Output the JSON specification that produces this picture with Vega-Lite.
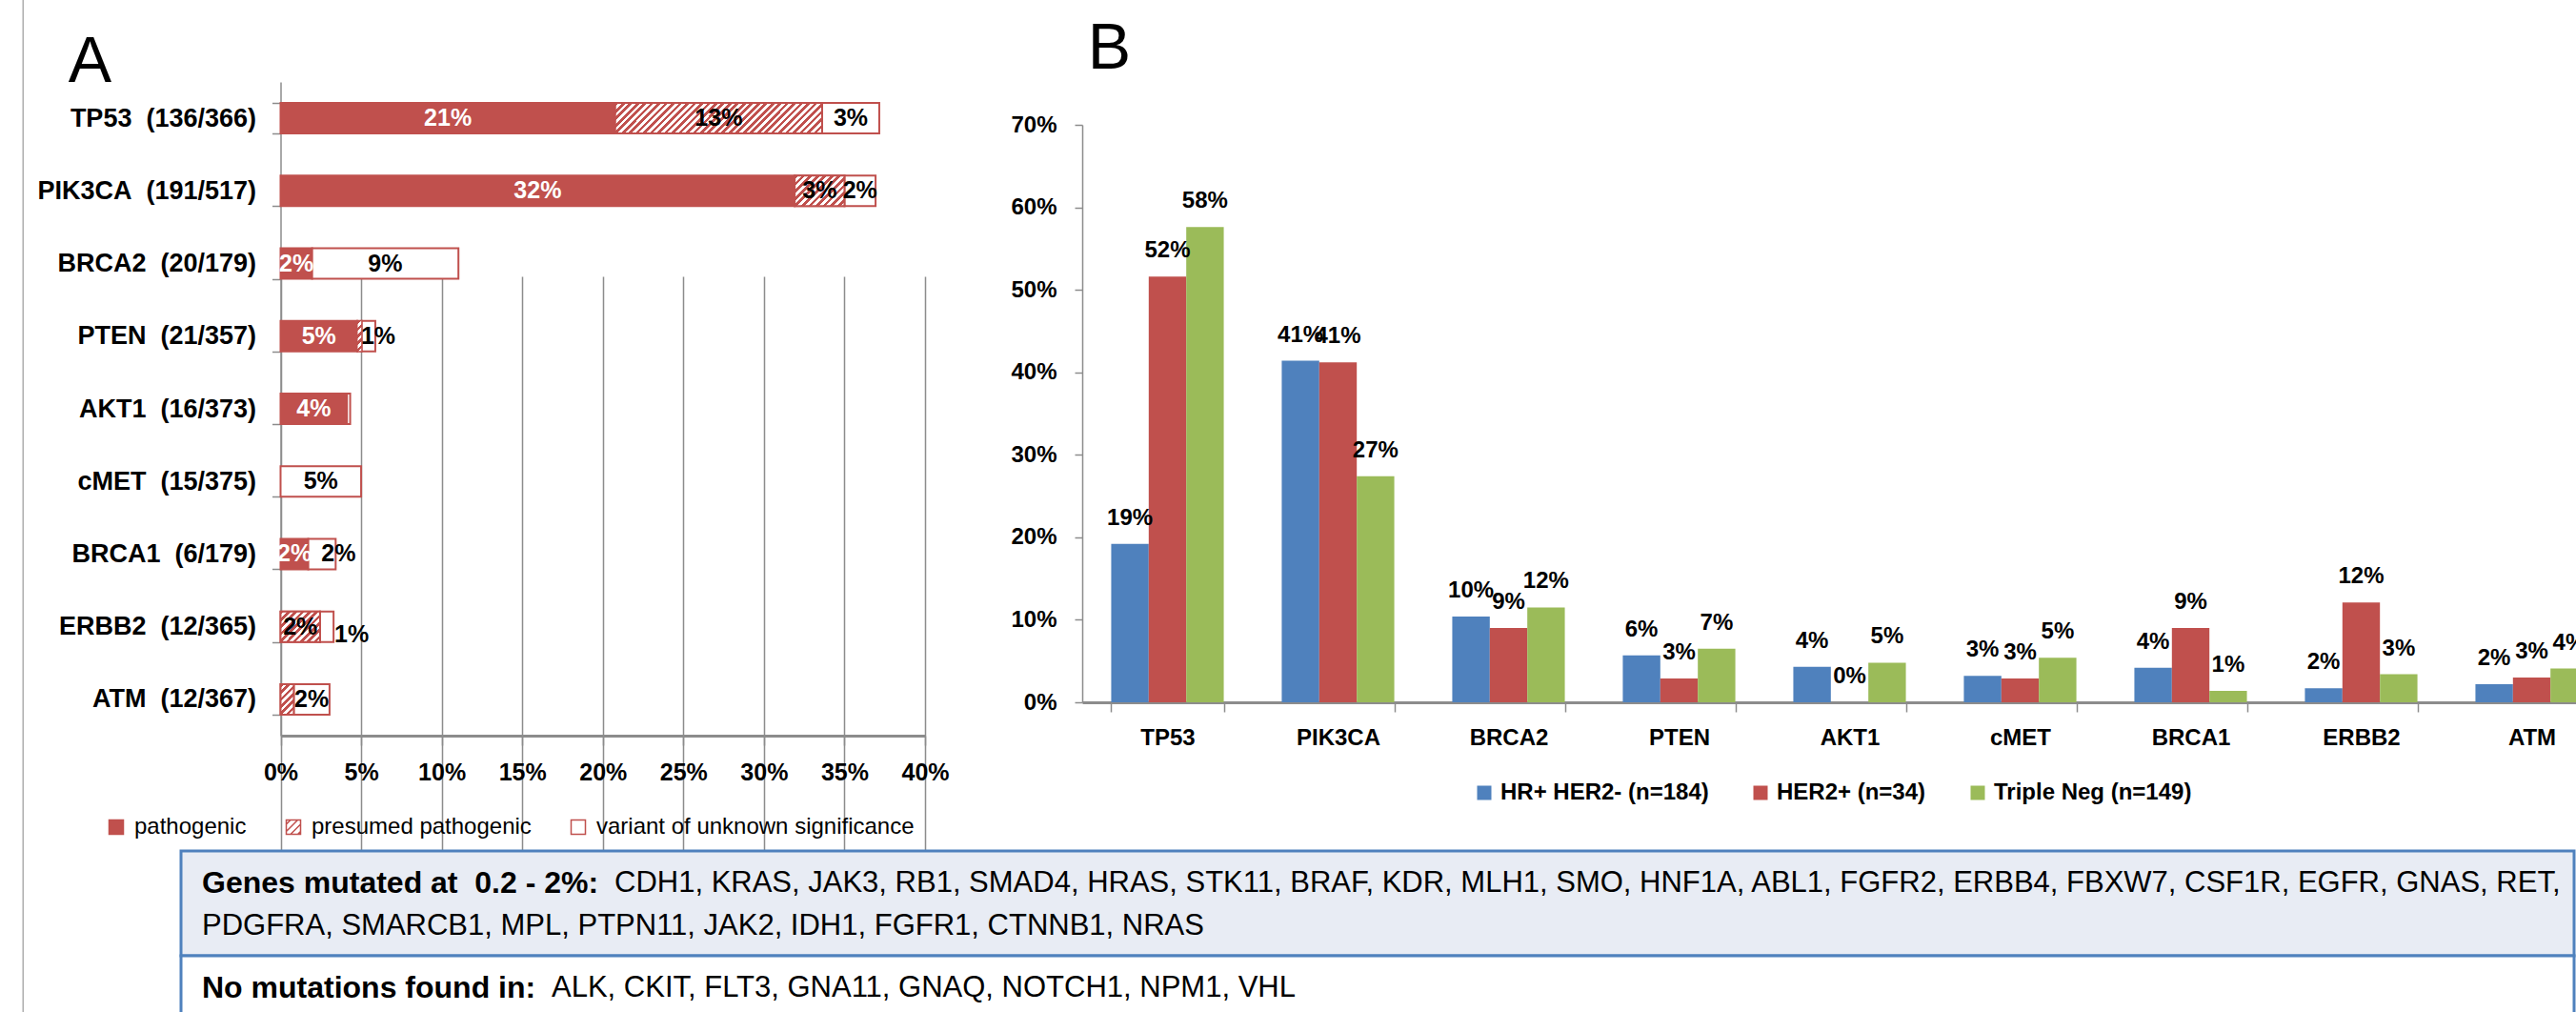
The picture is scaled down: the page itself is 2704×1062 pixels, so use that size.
{
  "$schema": "https://vega.github.io/schema/vega-lite/v6.json",
  "width": 2704,
  "height": 1062,
  "padding": 0,
  "autosize": {"type": "none"},
  "background": "#FFFFFF",
  "config": {
    "view": {"stroke": null},
    "font": "Liberation Sans, Arial, sans-serif",
    "axis": {"labelColor": "#000000", "titleColor": "#000000", "labelFont": "Liberation Sans, Arial, sans-serif", "titleFont": "Liberation Sans, Arial, sans-serif"},
    "legend": {"labelColor": "#000000", "labelFont": "Liberation Sans, Arial, sans-serif"},
    "text": {"font": "Liberation Sans, Arial, sans-serif"}
  },
  "datasets": {
    "mutA": [
      {"g": "TP53", "gene": "TP53\u00a0\u00a0(136/366)", "type": "pathogenic", "value": 0.2077, "text": "21%"},
      {"g": "TP53", "gene": "TP53\u00a0\u00a0(136/366)", "type": "presumed pathogenic", "value": 0.1284, "text": "13%"},
      {"g": "TP53", "gene": "TP53\u00a0\u00a0(136/366)", "type": "variant of unknown significance", "value": 0.0355, "text": "3%"},
      {"g": "PIK3CA", "gene": "PIK3CA\u00a0\u00a0(191/517)", "type": "pathogenic", "value": 0.3191, "text": "32%"},
      {"g": "PIK3CA", "gene": "PIK3CA\u00a0\u00a0(191/517)", "type": "presumed pathogenic", "value": 0.0309, "text": "3%"},
      {"g": "PIK3CA", "gene": "PIK3CA\u00a0\u00a0(191/517)", "type": "variant of unknown significance", "value": 0.0193, "text": "2%"},
      {"g": "BRCA2", "gene": "BRCA2\u00a0\u00a0(20/179)", "type": "pathogenic", "value": 0.0196, "text": "2%"},
      {"g": "BRCA2", "gene": "BRCA2\u00a0\u00a0(20/179)", "type": "variant of unknown significance", "value": 0.0908, "text": "9%"},
      {"g": "PTEN", "gene": "PTEN\u00a0\u00a0(21/357)", "type": "pathogenic", "value": 0.0476, "text": "5%"},
      {"g": "PTEN", "gene": "PTEN\u00a0\u00a0(21/357)", "type": "presumed pathogenic", "value": 0.0028, "text": ""},
      {"g": "PTEN", "gene": "PTEN\u00a0\u00a0(21/357)", "type": "variant of unknown significance", "value": 0.0084, "text": "1%"},
      {"g": "AKT1", "gene": "AKT1\u00a0\u00a0(16/373)", "type": "pathogenic", "value": 0.0412, "text": "4%"},
      {"g": "AKT1", "gene": "AKT1\u00a0\u00a0(16/373)", "type": "variant of unknown significance", "value": 0.002, "text": ""},
      {"g": "cMET", "gene": "cMET\u00a0\u00a0(15/375)", "type": "variant of unknown significance", "value": 0.05, "text": "5%"},
      {"g": "BRCA1", "gene": "BRCA1\u00a0\u00a0(6/179)", "type": "pathogenic", "value": 0.0172, "text": "2%"},
      {"g": "BRCA1", "gene": "BRCA1\u00a0\u00a0(6/179)", "type": "variant of unknown significance", "value": 0.0170, "text": "2%"},
      {"g": "ERBB2", "gene": "ERBB2\u00a0\u00a0(12/365)", "type": "presumed pathogenic", "value": 0.0245, "text": "2%"},
      {"g": "ERBB2", "gene": "ERBB2\u00a0\u00a0(12/365)", "type": "variant of unknown significance", "value": 0.0084, "text": "1%"},
      {"g": "ATM", "gene": "ATM\u00a0\u00a0(12/367)", "type": "presumed pathogenic", "value": 0.0082, "text": ""},
      {"g": "ATM", "gene": "ATM\u00a0\u00a0(12/367)", "type": "variant of unknown significance", "value": 0.0222, "text": "2%"}
    ],
    "mutB": [
      {"gene": "TP53", "group": "HR+ HER2- (n=184)", "value": 0.192, "text": "19%"},
      {"gene": "TP53", "group": "HER2+ (n=34)", "value": 0.516, "text": "52%"},
      {"gene": "TP53", "group": "Triple Neg (n=149)", "value": 0.576, "text": "58%"},
      {"gene": "PIK3CA", "group": "HR+ HER2- (n=184)", "value": 0.414, "text": "41%"},
      {"gene": "PIK3CA", "group": "HER2+ (n=34)", "value": 0.412, "text": "41%"},
      {"gene": "PIK3CA", "group": "Triple Neg (n=149)", "value": 0.274, "text": "27%"},
      {"gene": "BRCA2", "group": "HR+ HER2- (n=184)", "value": 0.104, "text": "10%"},
      {"gene": "BRCA2", "group": "HER2+ (n=34)", "value": 0.09, "text": "9%"},
      {"gene": "BRCA2", "group": "Triple Neg (n=149)", "value": 0.115, "text": "12%"},
      {"gene": "PTEN", "group": "HR+ HER2- (n=184)", "value": 0.057, "text": "6%"},
      {"gene": "PTEN", "group": "HER2+ (n=34)", "value": 0.029, "text": "3%"},
      {"gene": "PTEN", "group": "Triple Neg (n=149)", "value": 0.065, "text": "7%"},
      {"gene": "AKT1", "group": "HR+ HER2- (n=184)", "value": 0.043, "text": "4%"},
      {"gene": "AKT1", "group": "HER2+ (n=34)", "value": 0.0, "text": "0%"},
      {"gene": "AKT1", "group": "Triple Neg (n=149)", "value": 0.048, "text": "5%"},
      {"gene": "cMET", "group": "HR+ HER2- (n=184)", "value": 0.032, "text": "3%"},
      {"gene": "cMET", "group": "HER2+ (n=34)", "value": 0.029, "text": "3%"},
      {"gene": "cMET", "group": "Triple Neg (n=149)", "value": 0.054, "text": "5%"},
      {"gene": "BRCA1", "group": "HR+ HER2- (n=184)", "value": 0.042, "text": "4%"},
      {"gene": "BRCA1", "group": "HER2+ (n=34)", "value": 0.09, "text": "9%"},
      {"gene": "BRCA1", "group": "Triple Neg (n=149)", "value": 0.014, "text": "1%"},
      {"gene": "ERBB2", "group": "HR+ HER2- (n=184)", "value": 0.017, "text": "2%"},
      {"gene": "ERBB2", "group": "HER2+ (n=34)", "value": 0.121, "text": "12%"},
      {"gene": "ERBB2", "group": "Triple Neg (n=149)", "value": 0.034, "text": "3%"},
      {"gene": "ATM", "group": "HR+ HER2- (n=184)", "value": 0.022, "text": "2%"},
      {"gene": "ATM", "group": "HER2+ (n=34)", "value": 0.03, "text": "3%"},
      {"gene": "ATM", "group": "Triple Neg (n=149)", "value": 0.041, "text": "4%"}
    ],
    "boxes": [
      {"frame": "all", "box": "genes"},
      {"frame": "all", "box": "none"}
    ],
    "boxText": [
      {"frame": "all", "box": "genes", "kind": "head", "text": "Genes mutated at\u00a0\u00a00.2 - 2%:"},
      {"frame": "all", "box": "genes", "kind": "body1", "text": "CDH1, KRAS, JAK3, RB1, SMAD4, HRAS, STK11, BRAF, KDR, MLH1, SMO, HNF1A, ABL1, FGFR2, ERBB4, FBXW7, CSF1R, EGFR, GNAS, RET,"},
      {"frame": "all", "box": "genes", "kind": "body2", "text": "PDGFRA, SMARCB1, MPL, PTPN11, JAK2, IDH1, FGFR1, CTNNB1, NRAS"},
      {"frame": "all", "box": "none", "kind": "head", "text": "No mutations found in:"},
      {"frame": "all", "box": "none", "kind": "body1", "text": "ALK, CKIT, FLT3, GNA11, GNAQ, NOTCH1, NPM1, VHL"}
    ]
  },
  "layer": [
    {
      "data": {"name": "mutA"},
      "layer": [
        {
          "mark": {"type": "bar", "stroke": "#C0504D", "strokeWidth": 2},
          "encoding": {
            "y": {"field": "gene", "type": "nominal", "sort": null,
              "scale": {"domain": ["TP53\u00a0\u00a0(136/366)", "PIK3CA\u00a0\u00a0(191/517)", "BRCA2\u00a0\u00a0(20/179)", "PTEN\u00a0\u00a0(21/357)", "AKT1\u00a0\u00a0(16/373)", "cMET\u00a0\u00a0(15/375)", "BRCA1\u00a0\u00a0(6/179)", "ERBB2\u00a0\u00a0(12/365)", "ATM\u00a0\u00a0(12/367)"], "range": [86, 772], "paddingInner": 0.58, "paddingOuter": 0.29},
              "axis": {"orient": "left", "offset": -294.5, "tickBand": "extent", "domainColor": "#8C8C8C", "domainWidth": 1.5, "tickColor": "#8C8C8C", "tickWidth": 1.5, "tickSize": 9, "labelFontSize": 27, "labelFontWeight": "bold", "labelPadding": 17, "labelLimit": 400, "grid": false,
                "title": "A", "titleAngle": 0, "titleX": -200.5, "titleY": 85, "titleAlign": "center", "titleBaseline": "alphabetic", "titleFontSize": 68, "titleFontWeight": "normal"}},
            "x": {"field": "value", "type": "quantitative", "stack": "zero",
              "scale": {"domain": [0, 0.4], "range": [294.5, 971], "nice": false, "zero": false},
              "axis": {"orient": "bottom", "offset": -290, "values": [0, 0.05, 0.1, 0.15, 0.2, 0.25, 0.3, 0.35, 0.4], "format": ".0%", "grid": true, "gridColor": "#8C8C8C", "gridWidth": 1.5, "domainColor": "#8C8C8C", "domainWidth": 3, "tickColor": "#8C8C8C", "tickWidth": 1.5, "tickSize": 10, "labelFontSize": 25, "labelFontWeight": "bold", "labelPadding": 16, "labelFlush": false, "labelOverlap": false, "title": null}},
            "color": {"field": "type", "type": "nominal",
              "scale": {"domain": ["pathogenic", "presumed pathogenic", "variant of unknown significance"], "range": ["#C0504D", "#FFFFFF", "#FFFFFF"]}},
            "order": {"field": "type", "type": "nominal", "sort": "ascending"}
          }
        },
        {
          "mark": {"type": "point", "filled": true, "size": 0},
          "encoding": {
            "y": {"field": "gene", "type": "nominal", "sort": null},
            "x": {"field": "value", "type": "quantitative", "scale": {"domain": [0, 0.4], "range": [294.5, 971], "nice": false, "zero": false}, "title": null},
            "color": {"field": "type", "type": "nominal",
              "legend": {"orient": "none", "legendX": 110, "legendY": 856, "direction": "horizontal", "title": null, "padding": 0, "symbolSize": 225, "labelFontSize": 24, "labelOffset": 7, "columnPadding": 37, "labelLimit": 600,
                "encode": {"symbols": {"stroke": {"value": "#C0504D"}, "strokeWidth": {"value": 2}, "size": {"value": 225}}}}},
            "shape": {"field": "type", "type": "nominal",
              "scale": {"domain": ["pathogenic", "presumed pathogenic", "variant of unknown significance"], "range": ["square", "M-1,-1H1V1H-1Z M-1,-0.4L-0.4,-1 M-1,0.6L0.6,-1 M-0.4,1L1,-0.4 M0.6,1L1,0.6", "square"]},
              "legend": {"orient": "none", "legendX": 110, "legendY": 856, "direction": "horizontal", "title": null, "padding": 0, "symbolSize": 225, "labelFontSize": 24, "labelOffset": 7, "columnPadding": 37, "labelLimit": 600,
                "encode": {"symbols": {"stroke": {"value": "#C0504D"}, "strokeWidth": {"value": 2}, "size": {"value": 225}}}}}
          }
        },
        {
          "transform": [
            {"stack": "value", "groupby": ["g"], "sort": [{"field": "type", "order": "ascending"}], "as": ["v0", "v1"]},
            {"filter": {"and": [{"field": "g", "equal": "TP53"}, {"field": "type", "equal": "presumed pathogenic"}]}}
          ],
          "mark": {"type": "bar", "stroke": "#C0504D", "strokeWidth": 2,
            "fill": {"gradient": "linear", "x1": 0, "y1": 0, "x2": 1.1229, "y2": 0.1654, "stops": [
              {"offset": 0, "color": "#C0504D"}, {"offset": 0.015, "color": "#C0504D"}, {"offset": 0.015, "color": "#FFFFFF"}, {"offset": 0.03, "color": "#FFFFFF"},
              {"offset": 0.03, "color": "#C0504D"}, {"offset": 0.045, "color": "#C0504D"}, {"offset": 0.045, "color": "#FFFFFF"}, {"offset": 0.06, "color": "#FFFFFF"},
              {"offset": 0.06, "color": "#C0504D"}, {"offset": 0.075, "color": "#C0504D"}, {"offset": 0.075, "color": "#FFFFFF"}, {"offset": 0.09, "color": "#FFFFFF"},
              {"offset": 0.09, "color": "#C0504D"}, {"offset": 0.105, "color": "#C0504D"}, {"offset": 0.105, "color": "#FFFFFF"}, {"offset": 0.12, "color": "#FFFFFF"},
              {"offset": 0.12, "color": "#C0504D"}, {"offset": 0.135, "color": "#C0504D"}, {"offset": 0.135, "color": "#FFFFFF"}, {"offset": 0.15, "color": "#FFFFFF"},
              {"offset": 0.15, "color": "#C0504D"}, {"offset": 0.165, "color": "#C0504D"}, {"offset": 0.165, "color": "#FFFFFF"}, {"offset": 0.18, "color": "#FFFFFF"},
              {"offset": 0.18, "color": "#C0504D"}, {"offset": 0.195, "color": "#C0504D"}, {"offset": 0.195, "color": "#FFFFFF"}, {"offset": 0.21, "color": "#FFFFFF"},
              {"offset": 0.21, "color": "#C0504D"}, {"offset": 0.225, "color": "#C0504D"}, {"offset": 0.225, "color": "#FFFFFF"}, {"offset": 0.24, "color": "#FFFFFF"},
              {"offset": 0.24, "color": "#C0504D"}, {"offset": 0.255, "color": "#C0504D"}, {"offset": 0.255, "color": "#FFFFFF"}, {"offset": 0.27, "color": "#FFFFFF"},
              {"offset": 0.27, "color": "#C0504D"}, {"offset": 0.285, "color": "#C0504D"}, {"offset": 0.285, "color": "#FFFFFF"}, {"offset": 0.3, "color": "#FFFFFF"},
              {"offset": 0.3, "color": "#C0504D"}, {"offset": 0.315, "color": "#C0504D"}, {"offset": 0.315, "color": "#FFFFFF"}, {"offset": 0.33, "color": "#FFFFFF"},
              {"offset": 0.33, "color": "#C0504D"}, {"offset": 0.345, "color": "#C0504D"}, {"offset": 0.345, "color": "#FFFFFF"}, {"offset": 0.36, "color": "#FFFFFF"},
              {"offset": 0.36, "color": "#C0504D"}, {"offset": 0.375, "color": "#C0504D"}, {"offset": 0.375, "color": "#FFFFFF"}, {"offset": 0.39, "color": "#FFFFFF"},
              {"offset": 0.39, "color": "#C0504D"}, {"offset": 0.405, "color": "#C0504D"}, {"offset": 0.405, "color": "#FFFFFF"}, {"offset": 0.42, "color": "#FFFFFF"},
              {"offset": 0.42, "color": "#C0504D"}, {"offset": 0.435, "color": "#C0504D"}, {"offset": 0.435, "color": "#FFFFFF"}, {"offset": 0.45, "color": "#FFFFFF"},
              {"offset": 0.45, "color": "#C0504D"}, {"offset": 0.465, "color": "#C0504D"}, {"offset": 0.465, "color": "#FFFFFF"}, {"offset": 0.48, "color": "#FFFFFF"},
              {"offset": 0.48, "color": "#C0504D"}, {"offset": 0.495, "color": "#C0504D"}, {"offset": 0.495, "color": "#FFFFFF"}, {"offset": 0.51, "color": "#FFFFFF"},
              {"offset": 0.51, "color": "#C0504D"}, {"offset": 0.525, "color": "#C0504D"}, {"offset": 0.525, "color": "#FFFFFF"}, {"offset": 0.54, "color": "#FFFFFF"},
              {"offset": 0.54, "color": "#C0504D"}, {"offset": 0.555, "color": "#C0504D"}, {"offset": 0.555, "color": "#FFFFFF"}, {"offset": 0.57, "color": "#FFFFFF"},
              {"offset": 0.57, "color": "#C0504D"}, {"offset": 0.585, "color": "#C0504D"}, {"offset": 0.585, "color": "#FFFFFF"}, {"offset": 0.6, "color": "#FFFFFF"},
              {"offset": 0.6, "color": "#C0504D"}, {"offset": 0.615, "color": "#C0504D"}, {"offset": 0.615, "color": "#FFFFFF"}, {"offset": 0.63, "color": "#FFFFFF"},
              {"offset": 0.63, "color": "#C0504D"}, {"offset": 0.645, "color": "#C0504D"}, {"offset": 0.645, "color": "#FFFFFF"}, {"offset": 0.66, "color": "#FFFFFF"},
              {"offset": 0.66, "color": "#C0504D"}, {"offset": 0.675, "color": "#C0504D"}, {"offset": 0.675, "color": "#FFFFFF"}, {"offset": 0.69, "color": "#FFFFFF"},
              {"offset": 0.69, "color": "#C0504D"}, {"offset": 0.705, "color": "#C0504D"}, {"offset": 0.705, "color": "#FFFFFF"}, {"offset": 0.72, "color": "#FFFFFF"},
              {"offset": 0.72, "color": "#C0504D"}, {"offset": 0.735, "color": "#C0504D"}, {"offset": 0.735, "color": "#FFFFFF"}, {"offset": 0.75, "color": "#FFFFFF"},
              {"offset": 0.75, "color": "#C0504D"}, {"offset": 0.765, "color": "#C0504D"}, {"offset": 0.765, "color": "#FFFFFF"}, {"offset": 0.78, "color": "#FFFFFF"},
              {"offset": 0.78, "color": "#C0504D"}, {"offset": 0.795, "color": "#C0504D"}, {"offset": 0.795, "color": "#FFFFFF"}, {"offset": 0.81, "color": "#FFFFFF"},
              {"offset": 0.81, "color": "#C0504D"}, {"offset": 0.825, "color": "#C0504D"}, {"offset": 0.825, "color": "#FFFFFF"}, {"offset": 0.84, "color": "#FFFFFF"},
              {"offset": 0.84, "color": "#C0504D"}, {"offset": 0.855, "color": "#C0504D"}, {"offset": 0.855, "color": "#FFFFFF"}, {"offset": 0.87, "color": "#FFFFFF"},
              {"offset": 0.87, "color": "#C0504D"}, {"offset": 0.885, "color": "#C0504D"}, {"offset": 0.885, "color": "#FFFFFF"}, {"offset": 0.9, "color": "#FFFFFF"},
              {"offset": 0.9, "color": "#C0504D"}, {"offset": 0.915, "color": "#C0504D"}, {"offset": 0.915, "color": "#FFFFFF"}, {"offset": 0.93, "color": "#FFFFFF"},
              {"offset": 0.93, "color": "#C0504D"}, {"offset": 0.945, "color": "#C0504D"}, {"offset": 0.945, "color": "#FFFFFF"}, {"offset": 0.96, "color": "#FFFFFF"},
              {"offset": 0.96, "color": "#C0504D"}, {"offset": 0.975, "color": "#C0504D"}, {"offset": 0.975, "color": "#FFFFFF"}, {"offset": 0.99, "color": "#FFFFFF"},
              {"offset": 0.99, "color": "#C0504D"}, {"offset": 1, "color": "#C0504D"}]}},
          "encoding": {
            "y": {"field": "gene", "type": "nominal", "sort": null},
            "x": {"field": "v0", "type": "quantitative", "scale": {"domain": [0, 0.4], "range": [294.5, 971], "nice": false, "zero": false}, "title": null},
            "x2": {"field": "v1"}
          }
        },
        {
          "transform": [
            {"stack": "value", "groupby": ["g"], "sort": [{"field": "type", "order": "ascending"}], "as": ["v0", "v1"]},
            {"filter": {"and": [{"field": "g", "equal": "PIK3CA"}, {"field": "type", "equal": "presumed pathogenic"}]}}
          ],
          "mark": {"type": "bar", "stroke": "#C0504D", "strokeWidth": 2,
            "fill": {"gradient": "linear", "x1": 0, "y1": 0, "x2": 1.1728, "y2": 0.7176, "stops": [
              {"offset": 0, "color": "#C0504D"}, {"offset": 0.045, "color": "#C0504D"}, {"offset": 0.045, "color": "#FFFFFF"}, {"offset": 0.09, "color": "#FFFFFF"},
              {"offset": 0.09, "color": "#C0504D"}, {"offset": 0.135, "color": "#C0504D"}, {"offset": 0.135, "color": "#FFFFFF"}, {"offset": 0.18, "color": "#FFFFFF"},
              {"offset": 0.18, "color": "#C0504D"}, {"offset": 0.225, "color": "#C0504D"}, {"offset": 0.225, "color": "#FFFFFF"}, {"offset": 0.27, "color": "#FFFFFF"},
              {"offset": 0.27, "color": "#C0504D"}, {"offset": 0.315, "color": "#C0504D"}, {"offset": 0.315, "color": "#FFFFFF"}, {"offset": 0.36, "color": "#FFFFFF"},
              {"offset": 0.36, "color": "#C0504D"}, {"offset": 0.405, "color": "#C0504D"}, {"offset": 0.405, "color": "#FFFFFF"}, {"offset": 0.45, "color": "#FFFFFF"},
              {"offset": 0.45, "color": "#C0504D"}, {"offset": 0.495, "color": "#C0504D"}, {"offset": 0.495, "color": "#FFFFFF"}, {"offset": 0.54, "color": "#FFFFFF"},
              {"offset": 0.54, "color": "#C0504D"}, {"offset": 0.585, "color": "#C0504D"}, {"offset": 0.585, "color": "#FFFFFF"}, {"offset": 0.63, "color": "#FFFFFF"},
              {"offset": 0.63, "color": "#C0504D"}, {"offset": 0.675, "color": "#C0504D"}, {"offset": 0.675, "color": "#FFFFFF"}, {"offset": 0.72, "color": "#FFFFFF"},
              {"offset": 0.72, "color": "#C0504D"}, {"offset": 0.765, "color": "#C0504D"}, {"offset": 0.765, "color": "#FFFFFF"}, {"offset": 0.81, "color": "#FFFFFF"},
              {"offset": 0.81, "color": "#C0504D"}, {"offset": 0.855, "color": "#C0504D"}, {"offset": 0.855, "color": "#FFFFFF"}, {"offset": 0.9, "color": "#FFFFFF"},
              {"offset": 0.9, "color": "#C0504D"}, {"offset": 0.945, "color": "#C0504D"}, {"offset": 0.945, "color": "#FFFFFF"}, {"offset": 0.99, "color": "#FFFFFF"},
              {"offset": 0.99, "color": "#C0504D"}, {"offset": 1, "color": "#C0504D"}]}},
          "encoding": {
            "y": {"field": "gene", "type": "nominal", "sort": null},
            "x": {"field": "v0", "type": "quantitative", "scale": {"domain": [0, 0.4], "range": [294.5, 971], "nice": false, "zero": false}, "title": null},
            "x2": {"field": "v1"}
          }
        },
        {
          "transform": [
            {"stack": "value", "groupby": ["g"], "sort": [{"field": "type", "order": "ascending"}], "as": ["v0", "v1"]},
            {"filter": {"and": [{"field": "g", "equal": "PTEN"}, {"field": "type", "equal": "presumed pathogenic"}]}}
          ],
          "mark": {"type": "bar", "stroke": "#C0504D", "strokeWidth": 1,
            "fill": {"gradient": "linear", "x1": 0, "y1": 0, "x2": 0.1649, "y2": 1.1227, "stops": [
              {"offset": 0, "color": "#C0504D"}, {"offset": 0.1, "color": "#C0504D"}, {"offset": 0.1, "color": "#FFFFFF"}, {"offset": 0.2, "color": "#FFFFFF"},
              {"offset": 0.2, "color": "#C0504D"}, {"offset": 0.3, "color": "#C0504D"}, {"offset": 0.3, "color": "#FFFFFF"}, {"offset": 0.4, "color": "#FFFFFF"},
              {"offset": 0.4, "color": "#C0504D"}, {"offset": 0.5, "color": "#C0504D"}, {"offset": 0.5, "color": "#FFFFFF"}, {"offset": 0.6, "color": "#FFFFFF"},
              {"offset": 0.6, "color": "#C0504D"}, {"offset": 0.7, "color": "#C0504D"}, {"offset": 0.7, "color": "#FFFFFF"}, {"offset": 0.8, "color": "#FFFFFF"},
              {"offset": 0.8, "color": "#C0504D"}, {"offset": 0.9, "color": "#C0504D"}, {"offset": 0.9, "color": "#FFFFFF"}, {"offset": 1, "color": "#FFFFFF"}]}},
          "encoding": {
            "y": {"field": "gene", "type": "nominal", "sort": null},
            "x": {"field": "v0", "type": "quantitative", "scale": {"domain": [0, 0.4], "range": [294.5, 971], "nice": false, "zero": false}, "title": null},
            "x2": {"field": "v1"}
          }
        },
        {
          "transform": [
            {"stack": "value", "groupby": ["g"], "sort": [{"field": "type", "order": "ascending"}], "as": ["v0", "v1"]},
            {"filter": {"and": [{"field": "g", "equal": "ERBB2"}, {"field": "type", "equal": "presumed pathogenic"}]}}
          ],
          "mark": {"type": "bar", "stroke": "#C0504D", "strokeWidth": 2,
            "fill": {"gradient": "linear", "x1": 0, "y1": 0, "x2": 1.1132, "y2": 0.8522, "stops": [
              {"offset": 0, "color": "#C0504D"}, {"offset": 0.05, "color": "#C0504D"}, {"offset": 0.05, "color": "#FFFFFF"}, {"offset": 0.1, "color": "#FFFFFF"},
              {"offset": 0.1, "color": "#C0504D"}, {"offset": 0.15, "color": "#C0504D"}, {"offset": 0.15, "color": "#FFFFFF"}, {"offset": 0.2, "color": "#FFFFFF"},
              {"offset": 0.2, "color": "#C0504D"}, {"offset": 0.25, "color": "#C0504D"}, {"offset": 0.25, "color": "#FFFFFF"}, {"offset": 0.3, "color": "#FFFFFF"},
              {"offset": 0.3, "color": "#C0504D"}, {"offset": 0.35, "color": "#C0504D"}, {"offset": 0.35, "color": "#FFFFFF"}, {"offset": 0.4, "color": "#FFFFFF"},
              {"offset": 0.4, "color": "#C0504D"}, {"offset": 0.45, "color": "#C0504D"}, {"offset": 0.45, "color": "#FFFFFF"}, {"offset": 0.5, "color": "#FFFFFF"},
              {"offset": 0.5, "color": "#C0504D"}, {"offset": 0.55, "color": "#C0504D"}, {"offset": 0.55, "color": "#FFFFFF"}, {"offset": 0.6, "color": "#FFFFFF"},
              {"offset": 0.6, "color": "#C0504D"}, {"offset": 0.65, "color": "#C0504D"}, {"offset": 0.65, "color": "#FFFFFF"}, {"offset": 0.7, "color": "#FFFFFF"},
              {"offset": 0.7, "color": "#C0504D"}, {"offset": 0.75, "color": "#C0504D"}, {"offset": 0.75, "color": "#FFFFFF"}, {"offset": 0.8, "color": "#FFFFFF"},
              {"offset": 0.8, "color": "#C0504D"}, {"offset": 0.85, "color": "#C0504D"}, {"offset": 0.85, "color": "#FFFFFF"}, {"offset": 0.9, "color": "#FFFFFF"},
              {"offset": 0.9, "color": "#C0504D"}, {"offset": 0.95, "color": "#C0504D"}, {"offset": 0.95, "color": "#FFFFFF"}, {"offset": 1, "color": "#FFFFFF"}]}},
          "encoding": {
            "y": {"field": "gene", "type": "nominal", "sort": null},
            "x": {"field": "v0", "type": "quantitative", "scale": {"domain": [0, 0.4], "range": [294.5, 971], "nice": false, "zero": false}, "title": null},
            "x2": {"field": "v1"}
          }
        },
        {
          "transform": [
            {"stack": "value", "groupby": ["g"], "sort": [{"field": "type", "order": "ascending"}], "as": ["v0", "v1"]},
            {"filter": {"and": [{"field": "g", "equal": "ATM"}, {"field": "type", "equal": "presumed pathogenic"}]}}
          ],
          "mark": {"type": "bar", "stroke": "#C0504D", "strokeWidth": 2,
            "fill": {"gradient": "linear", "x1": 0, "y1": 0, "x2": 0.5242, "y2": 1.2068, "stops": [
              {"offset": 0, "color": "#C0504D"}, {"offset": 0.08, "color": "#C0504D"}, {"offset": 0.08, "color": "#FFFFFF"}, {"offset": 0.16, "color": "#FFFFFF"},
              {"offset": 0.16, "color": "#C0504D"}, {"offset": 0.24, "color": "#C0504D"}, {"offset": 0.24, "color": "#FFFFFF"}, {"offset": 0.32, "color": "#FFFFFF"},
              {"offset": 0.32, "color": "#C0504D"}, {"offset": 0.4, "color": "#C0504D"}, {"offset": 0.4, "color": "#FFFFFF"}, {"offset": 0.48, "color": "#FFFFFF"},
              {"offset": 0.48, "color": "#C0504D"}, {"offset": 0.56, "color": "#C0504D"}, {"offset": 0.56, "color": "#FFFFFF"}, {"offset": 0.64, "color": "#FFFFFF"},
              {"offset": 0.64, "color": "#C0504D"}, {"offset": 0.72, "color": "#C0504D"}, {"offset": 0.72, "color": "#FFFFFF"}, {"offset": 0.8, "color": "#FFFFFF"},
              {"offset": 0.8, "color": "#C0504D"}, {"offset": 0.88, "color": "#C0504D"}, {"offset": 0.88, "color": "#FFFFFF"}, {"offset": 0.96, "color": "#FFFFFF"},
              {"offset": 0.96, "color": "#C0504D"}, {"offset": 1, "color": "#C0504D"}]}},
          "encoding": {
            "y": {"field": "gene", "type": "nominal", "sort": null},
            "x": {"field": "v0", "type": "quantitative", "scale": {"domain": [0, 0.4], "range": [294.5, 971], "nice": false, "zero": false}, "title": null},
            "x2": {"field": "v1"}
          }
        },
        {
          "mark": {"type": "text", "fontSize": 25, "fontWeight": "bold", "baseline": "middle", "align": "center"},
          "encoding": {
            "y": {"field": "gene", "type": "nominal", "sort": null},
            "x": {"field": "value", "type": "quantitative", "stack": "zero", "bandPosition": 0.5, "scale": {"domain": [0, 0.4], "range": [294.5, 971], "nice": false, "zero": false}, "title": null},
            "detail": {"field": "type", "type": "nominal"},
            "order": {"field": "type", "type": "nominal", "sort": "ascending"},
            "text": {"condition": {"test": "datum.type === 'variant of unknown significance' && indexof(['BRCA1', 'PTEN', 'ERBB2'], datum.g) >= 0", "value": ""}, "field": "text"},
            "color": {"condition": {"test": "datum.type === 'pathogenic'", "value": "#FFFFFF"}, "value": "#000000"}
          }
        },
        {
          "transform": [
            {"stack": "value", "groupby": ["g"], "sort": [{"field": "type", "order": "ascending"}], "as": ["v0", "v1"]},
            {"filter": {"and": [{"field": "g", "oneOf": ["BRCA1", "PTEN"]}, {"field": "type", "equal": "variant of unknown significance"}]}}
          ],
          "mark": {"type": "text", "fontSize": 25, "fontWeight": "bold", "baseline": "middle", "align": "center", "dx": 3, "color": "#000000"},
          "encoding": {
            "y": {"field": "gene", "type": "nominal", "sort": null},
            "x": {"field": "v1", "type": "quantitative", "scale": {"domain": [0, 0.4], "range": [294.5, 971], "nice": false, "zero": false}, "title": null},
            "text": {"field": "text"}
          }
        },
        {
          "transform": [
            {"stack": "value", "groupby": ["g"], "sort": [{"field": "type", "order": "ascending"}], "as": ["v0", "v1"]},
            {"filter": {"and": [{"field": "g", "equal": "ERBB2"}, {"field": "type", "equal": "variant of unknown significance"}]}}
          ],
          "mark": {"type": "text", "fontSize": 25, "fontWeight": "bold", "baseline": "middle", "align": "center", "dx": 19, "dy": 8, "color": "#000000"},
          "encoding": {
            "y": {"field": "gene", "type": "nominal", "sort": null},
            "x": {"field": "v1", "type": "quantitative", "scale": {"domain": [0, 0.4], "range": [294.5, 971], "nice": false, "zero": false}, "title": null},
            "text": {"field": "text"}
          }
        },
        {
          "data": {"values": [{"frame": "left"}]},
          "mark": {"type": "rule", "color": "#ADADAD", "strokeWidth": 1.5},
          "encoding": {
            "x": {"datum": -0.1598, "type": "quantitative", "scale": {"domain": [0, 0.4], "range": [294.5, 971], "nice": false, "zero": false}}
          }
        }
      ]
    },
    {
      "data": {"name": "mutB"},
      "layer": [
        {
          "mark": {"type": "bar", "clip": true},
          "encoding": {
            "x": {"field": "gene", "type": "nominal", "sort": null,
              "scale": {"domain": ["TP53", "PIK3CA", "BRCA2", "PTEN", "AKT1", "cMET", "BRCA1", "ERBB2", "ATM"], "range": [1136, 2747], "paddingInner": 0.34, "paddingOuter": 0.17},
              "axis": {"orient": "bottom", "offset": -325, "tickBand": "extent", "domainColor": "#8C8C8C", "domainWidth": 3, "tickColor": "#8C8C8C", "tickWidth": 1.5, "tickSize": 10, "labelFontSize": 24, "labelFontWeight": "bold", "labelPadding": 15, "labelAngle": 0, "labelOverlap": false, "title": null, "grid": false}},
            "xOffset": {"field": "group", "type": "nominal", "sort": null, "scale": {"domain": ["HR+ HER2- (n=184)", "HER2+ (n=34)", "Triple Neg (n=149)"], "paddingInner": 0, "paddingOuter": 0}},
            "y": {"field": "value", "type": "quantitative",
              "scale": {"domain": [0, 0.7], "range": [737, 131], "nice": false, "zero": true},
              "axis": {"orient": "left", "offset": -1136, "values": [0, 0.1, 0.2, 0.3, 0.4, 0.5, 0.6, 0.7], "format": ".0%", "domainColor": "#8C8C8C", "domainWidth": 1.5, "tickColor": "#8C8C8C", "tickWidth": 1.5, "tickSize": 8, "labelFontSize": 24, "labelFontWeight": "bold", "labelPadding": 19, "grid": false,
                "title": "B", "titleAngle": 0, "titleX": 28, "titleY": 71, "titleAlign": "center", "titleBaseline": "alphabetic", "titleFontSize": 68, "titleFontWeight": "normal"}},
            "color": {"field": "group", "type": "nominal", "sort": null,
              "scale": {"domain": ["HR+ HER2- (n=184)", "HER2+ (n=34)", "Triple Neg (n=149)"], "range": ["#4F81BD", "#C0504D", "#9BBB59"]},
              "legend": {"orient": "none", "legendX": 1546, "legendY": 820, "direction": "horizontal", "title": null, "padding": 0, "symbolType": "square", "symbolSize": 225, "symbolStrokeWidth": 0, "labelFontSize": 24, "labelFontWeight": "bold", "labelOffset": 5, "columnPadding": 42, "labelLimit": 600}}
          }
        },
        {
          "mark": {"type": "text", "clip": true, "fontSize": 24, "fontWeight": "bold", "dy": -27, "color": "#000000", "align": "center", "baseline": "middle"},
          "encoding": {
            "x": {"field": "gene", "type": "nominal", "sort": null},
            "xOffset": {"field": "group", "type": "nominal", "sort": null},
            "y": {"field": "value", "type": "quantitative"},
            "text": {"field": "text"}
          }
        }
      ]
    },
    {
      "layer": [
        {
          "data": {"name": "boxes"},
          "mark": {"type": "rect", "stroke": "#4F81BD", "strokeWidth": 3},
          "encoding": {
            "x": {"field": "frame", "type": "nominal", "scale": {"type": "band", "range": [190, 2702], "paddingInner": 0, "paddingOuter": 0}, "axis": null},
            "y": {"field": "box", "type": "nominal", "sort": null, "scale": {"type": "band", "domain": ["genes", "none"], "range": [893, 1113], "paddingInner": 0, "paddingOuter": 0}, "axis": null},
            "fill": {"field": "box", "type": "nominal", "scale": {"domain": ["genes", "none"], "range": ["#E8ECF4", "#FFFFFF"]}, "legend": null}
          }
        },
        {
          "data": {"name": "boxText"},
          "transform": [{"filter": {"field": "kind", "equal": "head"}}],
          "mark": {"type": "text", "align": "left", "baseline": "middle", "fontSize": 32, "fontWeight": "bold", "dx": 22, "dy": 34, "color": "#000000"},
          "encoding": {
            "x": {"field": "frame", "type": "nominal", "bandPosition": 0, "scale": {"type": "band"}, "axis": null},
            "y": {"field": "box", "type": "nominal", "sort": null, "bandPosition": 0, "scale": {"type": "band"}, "axis": null},
            "text": {"field": "text"}
          }
        },
        {
          "data": {"name": "boxText"},
          "transform": [{"filter": {"and": [{"field": "kind", "equal": "body1"}, {"field": "box", "equal": "genes"}]}}],
          "mark": {"type": "text", "align": "left", "baseline": "middle", "fontSize": 31, "dx": 455, "dy": 34, "color": "#000000"},
          "encoding": {
            "x": {"field": "frame", "type": "nominal", "bandPosition": 0, "scale": {"type": "band"}, "axis": null},
            "y": {"field": "box", "type": "nominal", "sort": null, "bandPosition": 0, "scale": {"type": "band"}, "axis": null},
            "text": {"field": "text"}
          }
        },
        {
          "data": {"name": "boxText"},
          "transform": [{"filter": {"and": [{"field": "kind", "equal": "body1"}, {"field": "box", "equal": "none"}]}}],
          "mark": {"type": "text", "align": "left", "baseline": "middle", "fontSize": 31, "dx": 389, "dy": 34, "color": "#000000"},
          "encoding": {
            "x": {"field": "frame", "type": "nominal", "bandPosition": 0, "scale": {"type": "band"}, "axis": null},
            "y": {"field": "box", "type": "nominal", "sort": null, "bandPosition": 0, "scale": {"type": "band"}, "axis": null},
            "text": {"field": "text"}
          }
        },
        {
          "data": {"name": "boxText"},
          "transform": [{"filter": {"field": "kind", "equal": "body2"}}],
          "mark": {"type": "text", "align": "left", "baseline": "middle", "fontSize": 31, "dx": 22, "dy": 79, "color": "#000000"},
          "encoding": {
            "x": {"field": "frame", "type": "nominal", "bandPosition": 0, "scale": {"type": "band"}, "axis": null},
            "y": {"field": "box", "type": "nominal", "sort": null, "bandPosition": 0, "scale": {"type": "band"}, "axis": null},
            "text": {"field": "text"}
          }
        }
      ]
    }
  ],
  "resolve": {
    "scale": {"x": "independent", "y": "independent", "color": "independent", "fill": "independent", "xOffset": "independent", "shape": "independent"},
    "axis": {"x": "independent", "y": "independent"},
    "legend": {"color": "independent", "fill": "independent", "shape": "independent"}
  }
}
